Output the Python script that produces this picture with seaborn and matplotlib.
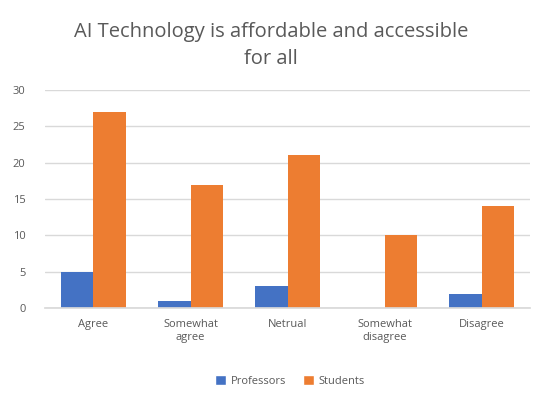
import matplotlib
matplotlib.use("Agg")
import matplotlib.pyplot as plt
import seaborn as sns
import pandas as pd
from matplotlib.patches import Patch

categories = ["Agree", "Somewhat\nagree", "Netrual", "Somewhat\ndisagree", "Disagree"]
professors = [5, 1, 3, 0, 2]
students = [27, 17, 21, 10, 14]
series_names = ["Professors", "Students"]
colors = ["#4472C4", "#ED7D31"]
yticks = [0, 5, 10, 15, 20, 25, 30]

df = pd.DataFrame({
    "category": categories * 2,
    "value": professors + students,
    "group": [series_names[0]] * len(categories) + [series_names[1]] * len(categories),
})

sns.set_theme(style="white")
plt.rcParams["font.family"] = ["Open Sans", "DejaVu Sans"]

fig = plt.figure(figsize=(5.42, 3.95), dpi=100)
ax = fig.add_axes([0.083, 0.22, 0.895, 0.552])

sns.barplot(data=df, x="category", y="value", hue="group", palette=colors,
            width=0.67, saturation=1, ax=ax, legend=False, gap=0, linewidth=0)

ax.set_ylim(0, 30)
ax.set_yticks(yticks)
ax.set_xlim(-0.5, len(categories) - 0.5)
ax.yaxis.grid(True, color="#D9D9D9", linewidth=1)
ax.set_axisbelow(True)
for s in ["top", "right", "left"]:
    ax.spines[s].set_visible(False)
ax.spines["bottom"].set_color("#D9D9D9")
ax.set_xlabel("")
ax.set_ylabel("")
ax.tick_params(axis="both", length=0, labelsize=8, labelcolor="#595959")
ax.tick_params(axis="x", pad=8)
ax.tick_params(axis="y", pad=14)

fig.suptitle("AI Technology is affordable and accessible\nfor all", y=0.945,
             fontsize=14.5, color="#595959", linespacing=1.5)

handles = [Patch(facecolor=c, label=n) for c, n in zip(colors, series_names)]
fig.legend(handles=handles, loc="center", bbox_to_anchor=(0.535, 0.035), ncol=2,
           frameon=False, fontsize=8, labelcolor="#595959",
           handlelength=1.0, handleheight=1.0, columnspacing=1.5, handletextpad=0.4)

fig.savefig("out.png", dpi=100, facecolor="white")
